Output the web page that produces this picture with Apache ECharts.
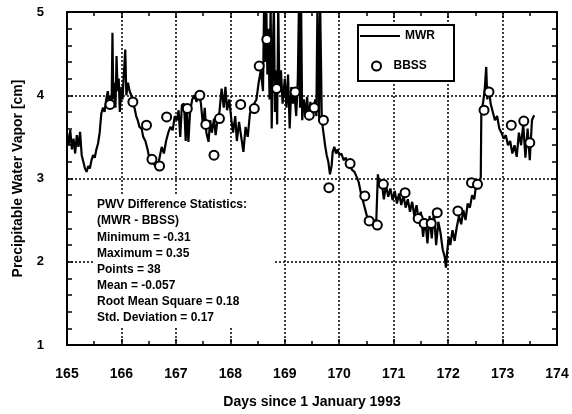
<!DOCTYPE html>
<html lang="en">
<head>
<meta charset="UTF-8">
<title>PWV MWR vs BBSS</title>
<script src="https://cdn.jsdelivr.net/npm/echarts@6/dist/echarts.min.js"></script>
<style>
  html, body { margin: 0; padding: 0; background: #fff; }
  #chart { width: 572px; height: 414px; }
</style>
</head>
<body>
<div id="chart"></div>
<script>
  // MWR precipitable water vapor [day, cm] (values above 5 are clipped by the axis)
  var mwr = [
    [165.00,3.55],[165.03,3.40],[165.06,3.58],[165.09,3.35],[165.12,3.48],[165.15,3.30],[165.18,3.52],[165.21,3.38],
    [165.24,3.56],[165.27,3.28],[165.30,3.20],[165.33,3.12],[165.36,3.08],[165.39,3.15],[165.42,3.12],[165.45,3.22],
    [165.48,3.28],[165.51,3.25],[165.54,3.35],[165.57,3.42],[165.60,3.55],[165.63,3.78],[165.66,3.85],[165.69,3.80],
    [165.72,3.95],[165.75,4.05],[165.78,3.85],[165.80,4.00],[165.82,3.90],[165.835,4.75],[165.85,3.95],[165.87,4.15],
    [165.89,3.85],[165.91,4.47],[165.93,4.05],[165.95,4.20],[165.97,3.80],[166.00,4.10],[166.02,3.95],[166.04,4.20],
    [166.07,4.55],[166.09,4.00],[166.12,4.15],[166.15,4.05],[166.18,4.00],[166.21,3.88],[166.24,3.85],[166.27,3.75],
    [166.30,3.70],[166.33,3.62],[166.37,3.60],[166.40,3.50],[166.44,3.45],[166.48,3.35],[166.52,3.22],[166.57,3.20],
    [166.62,3.15],[166.66,3.12],[166.70,3.25],[166.74,3.38],[166.78,3.30],[166.82,3.45],[166.86,3.55],[166.90,3.62],
    [166.94,3.58],[166.98,3.75],[167.02,3.70],[167.05,3.82],[167.08,3.50],[167.11,3.88],[167.15,3.90],[167.18,3.45],
    [167.20,3.85],[167.23,3.44],[167.26,3.80],[167.30,3.95],[167.34,4.00],[167.38,3.92],[167.42,4.05],[167.46,3.90],
    [167.50,3.62],[167.53,3.85],[167.56,3.55],[167.60,3.44],[167.63,3.70],[167.66,3.55],[167.70,3.72],[167.73,3.52],
    [167.76,3.68],[167.80,3.80],[167.84,4.08],[167.88,3.85],[167.91,4.10],[167.94,3.82],[167.98,3.95],[168.02,3.70],
    [168.05,3.55],[168.09,3.75],[168.12,3.45],[168.16,3.68],[168.20,3.50],[168.24,3.32],[168.28,3.62],[168.32,3.50],
    [168.36,3.78],[168.40,3.85],[168.44,3.90],[168.48,3.95],[168.52,4.15],[168.56,4.30],[168.60,4.05],[168.62,5.10],
    [168.64,4.40],[168.66,5.10],[168.68,4.25],[168.70,4.80],[168.72,3.95],[168.74,5.10],[168.76,3.60],[168.78,4.50],
    [168.80,5.10],[168.82,3.80],[168.84,4.30],[168.86,3.65],[168.88,5.10],[168.90,4.05],[168.93,4.30],[168.96,3.90],
    [169.00,4.20],[169.03,3.85],[169.06,4.25],[169.09,3.60],[169.12,4.10],[169.15,3.90],[169.18,4.00],[169.21,3.75],
    [169.24,4.20],[169.26,5.10],[169.28,3.85],[169.30,5.10],[169.32,3.70],[169.35,3.95],[169.38,3.75],[169.41,3.98],
    [169.44,3.70],[169.47,3.92],[169.50,3.72],[169.53,3.85],[169.56,3.95],[169.58,3.75],[169.60,5.10],[169.63,3.72],
    [169.65,5.10],[169.68,3.70],[169.71,3.55],[169.74,3.40],[169.77,3.28],[169.80,3.20],[169.83,3.05],[169.86,3.15],
    [169.88,3.32],[169.91,3.38],[169.94,3.30],[169.97,3.35],[170.00,3.28],[170.04,3.30],[170.08,3.22],[170.12,3.25],
    [170.16,3.18],[170.20,3.14],[170.24,3.10],[170.28,3.08],[170.32,3.02],[170.36,2.95],[170.40,2.82],[170.44,2.72],
    [170.48,2.62],[170.52,2.52],[170.56,2.50],[170.60,2.48],[170.64,2.50],[170.68,2.48],[170.71,3.05],[170.74,2.90],
    [170.78,2.96],[170.82,2.75],[170.86,2.92],[170.90,2.78],[170.94,2.88],[170.98,2.74],[171.02,2.85],[171.06,2.70],
    [171.10,2.82],[171.14,2.68],[171.18,2.80],[171.22,2.65],[171.26,2.75],[171.30,2.60],[171.34,2.72],[171.38,2.55],
    [171.42,2.68],[171.46,2.50],[171.50,2.60],[171.54,2.30],[171.58,2.52],[171.62,2.22],[171.66,2.55],[171.70,2.28],
    [171.74,2.60],[171.78,2.20],[171.82,2.48],[171.86,2.35],[171.90,2.15],[171.94,2.05],[171.96,1.93],[171.98,2.10],
    [172.01,2.30],[172.04,2.20],[172.08,2.38],[172.12,2.25],[172.16,2.42],[172.20,2.55],[172.24,2.45],[172.28,2.62],
    [172.32,2.50],[172.36,2.70],[172.40,2.65],[172.44,2.80],[172.48,2.75],[172.52,2.95],[172.56,2.88],[172.60,3.02],
    [172.61,3.80],[172.64,3.90],[172.67,4.05],[172.70,4.34],[172.72,3.95],[172.75,4.10],[172.78,3.90],[172.82,3.80],
    [172.86,3.70],[172.90,3.75],[172.94,3.60],[172.98,3.55],[173.02,3.48],[173.06,3.52],[173.10,3.40],[173.14,3.45],
    [173.18,3.30],[173.22,3.40],[173.26,3.26],[173.30,3.55],[173.34,3.40],[173.38,3.65],[173.42,3.25],[173.46,3.60],
    [173.50,3.22],[173.54,3.70],[173.58,3.76]
  ];

  // BBSS radiosonde points [day, cm]
  var bbss = [
    [165.79,3.89],[166.21,3.92],[166.46,3.64],[166.56,3.23],[166.70,3.15],[166.83,3.74],[167.21,3.84],
    [167.44,4.00],[167.55,3.65],[167.70,3.28],[167.80,3.72],[168.19,3.89],[168.44,3.84],[168.53,4.35],
    [168.67,4.67],[168.85,4.08],[169.19,4.04],[169.45,3.76],[169.54,3.85],[169.71,3.70],[169.81,2.89],
    [170.20,3.18],[170.47,2.79],[170.55,2.49],[170.70,2.44],[170.81,2.93],[171.21,2.83],[171.45,2.52],
    [171.56,2.46],[171.69,2.46],[171.80,2.59],[172.18,2.61],[172.43,2.95],[172.54,2.93],[172.66,3.82],
    [172.75,4.04],[173.16,3.64],[173.39,3.69],[173.50,3.43]
  ];

  var statsLines = [
    'PWV Difference Statistics:',
    '(MWR - BBSS)',
    'Minimum = -0.31',
    'Maximum = 0.35',
    'Points = 38',
    'Mean = -0.057',
    'Root Mean Square = 0.18',
    'Std. Deviation = 0.17'
  ];

  var font = "'Liberation Sans', Arial, sans-serif";
  var chart = echarts.init(document.getElementById('chart'));

  var gridDots = { show: true, lineStyle: { color: '#000', width: 1.5, type: [2, 2] } };
  var frame = { show: true, onZero: false, lineStyle: { color: '#000', width: 2 } };
  var ticks = { show: true, inside: true, length: 6, lineStyle: { color: '#000', width: 1.5 } };
  var legendText = { fontFamily: font, fontWeight: 'bold', fontSize: 12, color: '#000' };

  chart.setOption({
    animation: false,
    backgroundColor: '#fff',
    textStyle: { fontFamily: font },
    grid: { left: 67, right: 15, top: 12, bottom: 62 },
    // two legends inside one drawn box: line sample for MWR, open circle for BBSS
    legend: [{
      left: 360, top: 30, padding: 0,
      itemWidth: 40, itemHeight: 2,
      textStyle: legendText,
      data: [{ name: 'MWR', icon: 'rect' }]
    }, {
      left: 371, top: 60, padding: 0,
      itemWidth: 24, itemHeight: 9,
      textStyle: legendText,
      data: ['BBSS']
    }],
    xAxis: [{
      type: 'value', min: 165, max: 174, interval: 1,
      name: 'Days since 1 January 1993', nameLocation: 'middle', nameGap: 50,
      nameTextStyle: { fontFamily: font, fontWeight: 'bold', fontSize: 14, color: '#000' },
      axisLine: frame,
      axisTick: ticks,
      minorTick: { show: true, splitNumber: 2, length: 4, lineStyle: { color: '#000', width: 1.5 } },
      axisLabel: { margin: 22, fontFamily: font, fontWeight: 'bold', fontSize: 14, color: '#000' },
      splitLine: gridDots
    }, {
      type: 'value', position: 'top', min: 165, max: 174, interval: 1,
      axisLine: frame,
      axisTick: ticks,
      minorTick: { show: true, splitNumber: 2, length: 4, lineStyle: { color: '#000', width: 1.5 } },
      axisLabel: { show: false },
      splitLine: { show: false }
    }],
    yAxis: [{
      type: 'value', min: 1, max: 5, interval: 1,
      name: 'Precipitable Water Vapor [cm]', nameLocation: 'middle', nameGap: 42,
      nameTextStyle: { fontFamily: font, fontWeight: 'bold', fontSize: 14, color: '#000' },
      axisLine: frame,
      axisTick: ticks,
      minorTick: { show: true, splitNumber: 5, length: 5, lineStyle: { color: '#000', width: 1.5 } },
      axisLabel: { margin: 23, fontFamily: font, fontWeight: 'bold', fontSize: 13, color: '#000' },
      splitLine: gridDots
    }, {
      type: 'value', position: 'right', min: 1, max: 5, interval: 1,
      axisLine: frame,
      axisTick: ticks,
      minorTick: { show: true, splitNumber: 5, length: 5, lineStyle: { color: '#000', width: 1.5 } },
      axisLabel: { show: false },
      splitLine: { show: false }
    }],
    graphic: [{
      // white patch behind the statistics block (hides the grid there)
      type: 'rect', left: 93, top: 196, z: 3,
      shape: { width: 180, height: 132 },
      style: { fill: '#fff' }
    }, {
      type: 'text', left: 97, top: 197, z: 4,
      style: {
        text: statsLines.join('\n'),
        font: 'bold 12px ' + font,
        lineHeight: 16.1,
        fill: '#000'
      }
    }, {
      // legend frame
      type: 'rect', left: 357, top: 24, z: 3,
      shape: { width: 96, height: 56 },
      style: { fill: '#fff', stroke: '#000', lineWidth: 2 }
    }],
    series: [{
      name: 'MWR',
      type: 'line',
      data: mwr,
      symbol: 'none',
      clip: true,
      lineStyle: { color: '#000', width: 2.2 },
      itemStyle: { color: '#000' },
      z: 2
    }, {
      name: 'BBSS',
      type: 'scatter',
      data: bbss,
      symbol: 'circle',
      symbolSize: 9,
      itemStyle: { color: '#fff', borderColor: '#000', borderWidth: 2, opacity: 1 },
      z: 5
    }]
  });
</script>
</body>
</html>
